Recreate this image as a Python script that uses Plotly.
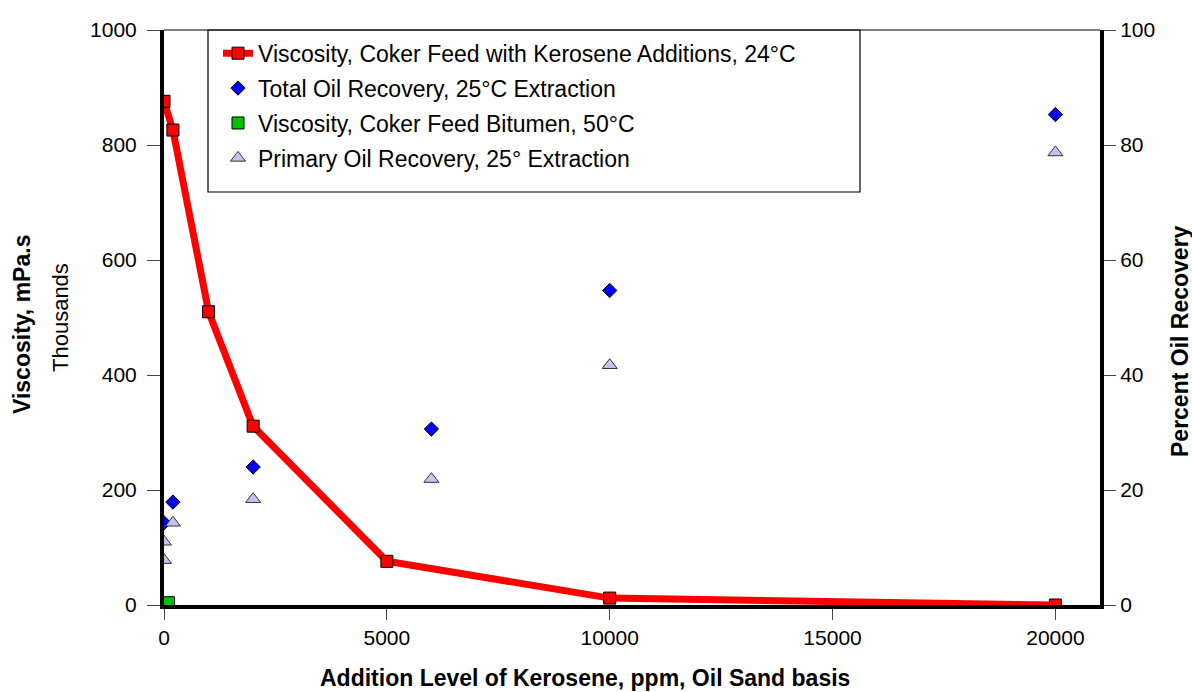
import plotly.graph_objects as go

# Data
kero_x = [0, 200, 1000, 2000, 5000, 10000, 20000]
kero_visc = [876, 826, 510, 311, 76, 12, 0]

total_x = [0, 200, 2000, 6000, 10000, 20000]
total_rec = [14.3, 17.9, 24.0, 30.6, 54.7, 85.3]

bitumen_x = [100]
bitumen_visc = [4]

primary_x = [0, 0, 200, 2000, 6000, 10000, 20000]
primary_rec = [7.8, 11.0, 14.3, 18.4, 21.9, 41.7, 78.7]

FONT = "Liberation Sans, Arial, sans-serif"

fig = go.Figure()
fig.add_trace(go.Scatter(
    x=kero_x, y=kero_visc, mode="lines+markers",
    name="Viscosity, Coker Feed with Kerosene Additions, 24°C",
    line=dict(color="#FF0000", width=7),
    marker=dict(symbol="square", size=12, color="#FF0000", line=dict(color="#000000", width=1)),
    legendgroup="a", yaxis="y"))
fig.add_trace(go.Scatter(
    x=total_x, y=total_rec, mode="markers",
    name="Total Oil Recovery, 25°C Extraction",
    marker=dict(symbol="diamond", size=11, color="#0000FF", line=dict(color="#000000", width=1)),
    legendgroup="b", yaxis="y2"))
fig.add_trace(go.Scatter(
    x=bitumen_x, y=bitumen_visc, mode="markers",
    name="Viscosity, Coker Feed Bitumen, 50°C",
    marker=dict(symbol="square", size=12, color="#00C000", line=dict(color="#000000", width=1)),
    legendgroup="c", yaxis="y"))
fig.add_trace(go.Scatter(
    x=primary_x, y=primary_rec, mode="markers",
    name="Primary Oil Recovery, 25° Extraction",
    marker=dict(symbol="triangle-up", size=13, color="#C8C0F0", line=dict(color="#333333", width=1)),
    legendgroup="d", yaxis="y2"))

L, R, T, B = 164, 1100, 30, 605
W, H = 1192, 692

fig.update_layout(
    width=W, height=H,
    margin=dict(l=L, r=W - R, t=T, b=H - B, pad=0),
    paper_bgcolor="white", plot_bgcolor="white",
    font=dict(family=FONT, size=21, color="#000000"),
    showlegend=True,
    legend=dict(x=(218 - L) / (R - L), y=0.997, xanchor="left", yanchor="top",
                bgcolor="rgba(0,0,0,0)", borderwidth=0,
                font=dict(size=23, family=FONT), tracegroupgap=2,
                itemwidth=30),
    xaxis=dict(range=[0, 21000], tickvals=[0, 5000, 10000, 15000, 20000],
               ticktext=["0", "5000", "10000", "15000", "20000"],
               showgrid=False, zeroline=False, showline=True, linecolor="#000000", linewidth=4,
               ticks="outside", ticklen=11, tickcolor="#444444", tickwidth=1,
               tickfont=dict(size=21)),
    yaxis=dict(range=[0, 1000], tickvals=[0, 200, 400, 600, 800, 1000],
               showgrid=False, zeroline=False, showline=True, linecolor="#000000", linewidth=4,
               ticks="outside", ticklen=13, tickcolor="#444444", tickwidth=1,
               ticklabelstandoff=6, tickfont=dict(size=21)),
    yaxis2=dict(range=[0, 100], tickvals=[0, 20, 40, 60, 80, 100], overlaying="y", side="right",
                showgrid=False, zeroline=False, showline=True, linecolor="#000000", linewidth=4,
                ticks="outside", ticklen=12, tickcolor="#444444", tickwidth=1,
                tickfont=dict(size=21)),
    shapes=[
        dict(type="line", xref="paper", yref="paper", x0=0, x1=1, y0=1, y1=1,
             line=dict(color="#000000", width=1)),
        dict(type="rect", xref="paper", yref="paper",
             x0=(208 - L) / (R - L), x1=(860 - L) / (R - L),
             y0=(B - 192) / (B - T), y1=1,
             line=dict(color="#000000", width=1.2), fillcolor="rgba(0,0,0,0)"),
    ],
    annotations=[
        dict(text="<b>Addition Level of Kerosene, ppm, Oil Sand basis</b>", xref="paper", yref="paper",
             x=(585 - L) / (R - L), y=-(678 - B) / (B - T), xanchor="center", yanchor="middle",
             showarrow=False, font=dict(size=23)),
        dict(text="<b>Viscosity, mPa.s</b>", xref="paper", yref="paper",
             x=-(L - 22) / (R - L), y=(B - 325) / (B - T), xanchor="center", yanchor="middle",
             textangle=-90, showarrow=False, font=dict(size=23)),
        dict(text="Thousands", xref="paper", yref="paper",
             x=-(L - 60) / (R - L), y=(B - 318) / (B - T), xanchor="center", yanchor="middle",
             textangle=-90, showarrow=False, font=dict(size=22)),
        dict(text="<b>Percent Oil Recovery</b>", xref="paper", yref="paper",
             x=(1180 - L) / (R - L), y=(B - 341) / (B - T), xanchor="center", yanchor="middle",
             textangle=-90, showarrow=False, font=dict(size=23)),
    ],
)

fig.write_html("out.html")
